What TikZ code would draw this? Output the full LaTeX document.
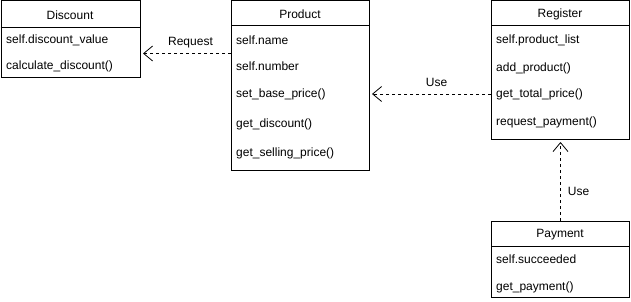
\documentclass[tikz,border=0pt]{standalone}
\usepackage{fontspec}
\setmainfont{Liberation Sans}
\usetikzlibrary{arrows.meta}
\begin{document}
\begin{tikzpicture}[x=1pt,y=-1pt,
  classbox/.style={draw=black,line width=1pt,fill=white,anchor=north west,inner sep=0pt},
  title/.style={font=\fontsize{12}{14}\selectfont,anchor=center,inner sep=0pt},
  member/.style={font=\fontsize{12}{14}\selectfont,anchor=west,inner sep=0pt},
  dep/.style={line width=0.8pt,dash pattern=on 3pt off 3pt,
    -{Straight Barb[length=9pt,width=15pt,line width=0.8pt]}, shorten >=2pt},
  tag/.style={font=\fontsize{12}{14}\selectfont,inner sep=0pt}]
\useasboundingbox[fill=white] (0,0) rectangle (631,302);

% class boxes
\node[classbox,minimum width=139.5pt,minimum height=77pt] (discount) at (0.5,0.5) {};
\node[classbox,minimum width=138pt,minimum height=169.5pt] (product) at (231,0.5) {};
\node[classbox,minimum width=138pt,minimum height=138.5pt] (register) at (491,0.5) {};
\node[classbox,minimum width=138pt,minimum height=76pt] (payment) at (491,221) {};

% header separators
\draw[line width=1pt] ([yshift=-27.5pt]discount.north west) -- ([yshift=-27.5pt]discount.north east);
\draw[line width=1pt] ([yshift=-25.5pt]product.north west) -- ([yshift=-25.5pt]product.north east);
\draw[line width=1pt] ([yshift=-25.5pt]register.north west) -- ([yshift=-25.5pt]register.north east);
\draw[line width=1pt] ([yshift=-25pt]payment.north west) -- ([yshift=-25pt]payment.north east);

% Discount
\node[title] (discountT) at (70,15) {Discount};
\node[member] (d1) at (6,40) {self.discount\_value};
\node[member] (d2) at (6,66) {calculate\_discount()};

% Product
\node[title] (productT) at (300,14) {Product};
\node[member] (p1) at (236,40) {self.name};
\node[member] (p2) at (236,66) {self.number};
\node[member] (p3) at (236,94) {set\_base\_price()};
\node[member] (p4) at (236,124) {get\_discount()};
\node[member] (p5) at (236,153) {get\_selling\_price()};

% Register
\node[title] (registerT) at (560,14) {Register};
\node[member] (r1) at (496,40) {self.product\_list};
\node[member] (r2) at (496,68) {add\_product()};
\node[member] (r3) at (496,94) {get\_total\_price()};
\node[member] (r4) at (496,122) {request\_payment()};

% Payment
\node[title] (paymentT) at (560,235) {Payment};
\node[member] (y1) at (496,259) {self.succeeded};
\node[member] (y2) at (496,287) {get\_payment()};

% dependencies
\draw[dep] ([yshift=-53pt]product.north west) -- ([yshift=-53pt]discount.north east)
  node[tag,pos=0.45,above=5pt] (reqL) {Request};
\draw[dep] ([yshift=-93.5pt]register.north west) -- ([yshift=-93.5pt]product.north east)
  node[tag,pos=0.45,above=7pt] (useL1) {Use};
\draw[dep] (payment.north) -- (register.south)
  node[tag,pos=0.36,right=7pt] (useL2) {Use};
\end{tikzpicture}
\end{document}
